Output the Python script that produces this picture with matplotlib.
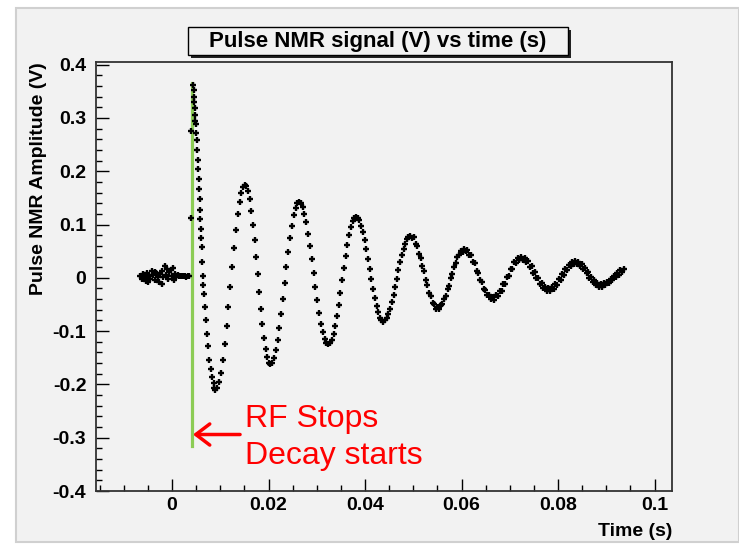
import matplotlib.pyplot as plt
from matplotlib.patches import Rectangle
from matplotlib.ticker import MultipleLocator

# baseline noise before the RF pulse ends
pre_t = [-0.0066, -0.0063, -0.0060, -0.0057, -0.0054, -0.0051, -0.0050, -0.0048,
         -0.0045, -0.0042, -0.0039, -0.0036, -0.0035, -0.0033, -0.0030, -0.0027,
         -0.0024, -0.0021, -0.0020, -0.0018, -0.0015, -0.0012, -0.0010, -0.0009,
         -0.0006, -0.0003, 0.0000, 0.0003, 0.0005, 0.0006, 0.0009, 0.0012,
         0.0015, 0.0018, 0.0021, 0.0024, 0.0027, 0.0030, 0.0033, 0.0036]
pre_v = [0.004, -0.003, 0.008, 0.001, -0.006, 0.010, -0.008, 0.003,
         -0.002, 0.012, 0.006, -0.004, 0.011, 0.009, 0.002, -0.008,
         0.007, 0.013, -0.012, 0.001, 0.022, 0.005, 0.016, -0.003,
         0.011, 0.015, 0.004, 0.018, -0.004, 0.008, 0.002, 0.006,
         0.004, 0.003, 0.004, 0.003, 0.003, 0.002, 0.003, 0.003]

# steep drop right after the pulse
drop_t = [0.0040, 0.0040, 0.0044, 0.0045, 0.0045, 0.0046, 0.0047, 0.0047, 0.0048,
          0.0049, 0.0050, 0.0051, 0.0052, 0.0053, 0.0054, 0.0055, 0.0056, 0.0057,
          0.0058, 0.0059, 0.0060, 0.0061, 0.0062, 0.0063, 0.0064, 0.0065, 0.0066,
          0.0068, 0.0070, 0.0072, 0.0074, 0.0077, 0.0080, 0.0083, 0.0086, 0.0088]
drop_v = [0.275, 0.112, 0.362, 0.352, 0.340, 0.330, 0.318, 0.305, 0.295,
          0.288, 0.272, 0.258, 0.240, 0.222, 0.204, 0.186, 0.166, 0.147,
          0.128, 0.110, 0.092, 0.075, 0.058, 0.030, 0.004, -0.014, -0.030,
          -0.055, -0.080, -0.105, -0.128, -0.154, -0.172, -0.186, -0.198, -0.207]

# free induction decay
decay_t = [
    0.0090, 0.0094, 0.0098, 0.0101, 0.0105, 0.0109, 0.0113, 0.0117, 0.0120, 0.0124, 0.0128, 0.0132, 0.0136, 0.0140, 0.0143, 0.0147,
    0.0151, 0.0154, 0.0158, 0.0161, 0.0164, 0.0168, 0.0171, 0.0174, 0.0178, 0.0181, 0.0184, 0.0187, 0.0191, 0.0194, 0.0197, 0.0201,
    0.0204, 0.0208, 0.0211, 0.0215, 0.0219, 0.0222, 0.0226, 0.0230, 0.0234, 0.0237, 0.0241, 0.0245, 0.0248, 0.0252, 0.0256, 0.0259,
    0.0263, 0.0267, 0.0271, 0.0274, 0.0278, 0.0282, 0.0286, 0.0290, 0.0294, 0.0297, 0.0301, 0.0305, 0.0309, 0.0313, 0.0316, 0.0320,
    0.0324, 0.0328, 0.0331, 0.0335, 0.0338, 0.0342, 0.0345, 0.0349, 0.0352, 0.0356, 0.0360, 0.0363, 0.0367, 0.0370, 0.0374, 0.0377,
    0.0381, 0.0385, 0.0388, 0.0392, 0.0395, 0.0399, 0.0402, 0.0406, 0.0410, 0.0413, 0.0417, 0.0420, 0.0424, 0.0427, 0.0431, 0.0434,
    0.0438, 0.0441, 0.0445, 0.0448, 0.0452, 0.0455, 0.0459, 0.0462, 0.0466, 0.0469, 0.0473, 0.0476, 0.0480, 0.0483, 0.0487, 0.0490,
    0.0494, 0.0498, 0.0501, 0.0505, 0.0508, 0.0512, 0.0515, 0.0519, 0.0522, 0.0526, 0.0529, 0.0533, 0.0536, 0.0540, 0.0543, 0.0547,
    0.0550, 0.0553, 0.0557, 0.0560, 0.0564, 0.0567, 0.0571, 0.0574, 0.0578, 0.0581, 0.0584, 0.0588, 0.0591, 0.0595, 0.0598, 0.0602,
    0.0605, 0.0609, 0.0612, 0.0616, 0.0620, 0.0623, 0.0627, 0.0631, 0.0634, 0.0638, 0.0642, 0.0646, 0.0649, 0.0653, 0.0657, 0.0660,
    0.0664, 0.0668, 0.0671, 0.0675, 0.0679, 0.0683, 0.0686, 0.0690, 0.0694, 0.0698, 0.0702, 0.0705, 0.0709, 0.0713, 0.0717, 0.0720,
    0.0724, 0.0727, 0.0731, 0.0734, 0.0738, 0.0741, 0.0745, 0.0748, 0.0752, 0.0755, 0.0759, 0.0762, 0.0766, 0.0769, 0.0773, 0.0776,
    0.0780, 0.0784, 0.0787, 0.0791, 0.0794, 0.0798, 0.0801, 0.0805, 0.0808, 0.0812, 0.0815, 0.0819, 0.0822, 0.0826, 0.0829, 0.0833,
    0.0836, 0.0839, 0.0842, 0.0846, 0.0849, 0.0852, 0.0855, 0.0859, 0.0862, 0.0865, 0.0868, 0.0872, 0.0875, 0.0878, 0.0881, 0.0885,
    0.0888, 0.0891, 0.0895, 0.0898, 0.0902, 0.0905, 0.0909, 0.0912, 0.0916, 0.0919, 0.0922, 0.0926, 0.0929, 0.0933, 0.0936]
decay_v = [
    -0.210, -0.206, -0.195, -0.178, -0.154, -0.125, -0.091, -0.055, -0.018, 0.020, 0.056, 0.090, 0.119, 0.142, 0.160, 0.171,
    0.175, 0.172, 0.162, 0.147, 0.126, 0.100, 0.071, 0.039, 0.007, -0.026, -0.058, -0.087, -0.113, -0.134, -0.149, -0.159,
    -0.162, -0.159, -0.150, -0.136, -0.117, -0.094, -0.068, -0.039, -0.010, 0.020, 0.049, 0.075, 0.098, 0.117, 0.131, 0.140,
    0.143, 0.140, 0.133, 0.120, 0.104, 0.083, 0.060, 0.035, 0.009, -0.017, -0.042, -0.066, -0.086, -0.102, -0.115, -0.122,
    -0.125, -0.123, -0.116, -0.105, -0.090, -0.072, -0.051, -0.028, -0.005, 0.018, 0.041, 0.062, 0.080, 0.095, 0.106, 0.113,
    0.115, 0.113, 0.108, 0.098, 0.086, 0.071, 0.054, 0.036, 0.017, -0.003, -0.021, -0.038, -0.053, -0.065, -0.075, -0.080,
    -0.082, -0.080, -0.076, -0.068, -0.059, -0.046, -0.033, -0.018, -0.002, 0.014, 0.029, 0.042, 0.055, 0.064, 0.072, 0.076,
    0.078, 0.074, 0.077, 0.064, 0.060, 0.045, 0.038, 0.022, 0.012, -0.005, -0.013, -0.029, -0.035, -0.048, -0.050, -0.058,
    -0.055, -0.059, -0.051, -0.050, -0.039, -0.035, -0.021, -0.015, -0.001, 0.007, 0.021, 0.027, 0.039, 0.042, 0.051, 0.049,
    0.055, 0.050, 0.052, 0.042, 0.043, 0.030, 0.028, 0.013, 0.010, -0.004, -0.008, -0.021, -0.022, -0.033, -0.032, -0.040,
    -0.036, -0.041, -0.033, -0.035, -0.024, -0.024, -0.012, -0.011, 0.002, 0.004, 0.017, 0.017, 0.029, 0.028, 0.037, 0.033,
    0.040, 0.033, 0.038, 0.029, 0.031, 0.021, 0.022, 0.010, 0.011, -0.001, -0.001, -0.012, -0.010, -0.020, -0.017, -0.025,
    -0.019, -0.025, -0.017, -0.021, -0.012, -0.014, -0.003, -0.005, 0.007, 0.005, 0.016, 0.015, 0.025, 0.022, 0.030, 0.026,
    0.032, 0.026, 0.030, 0.022, 0.026, 0.016, 0.019, 0.009, 0.011, 0.000, 0.002, -0.008, -0.005, -0.013, -0.009, -0.017,
    -0.011, -0.017, -0.010, -0.014, -0.007, -0.009, -0.002, -0.004, 0.004, 0.001, 0.010, 0.006, 0.015, 0.011, 0.016]

rf_stop_t = 0.0041
rf_line_v = [-0.315, 0.365]

x_ticks = [0, 0.02, 0.04, 0.06, 0.08, 0.1]
x_tick_labels = ['0', '0.02', '0.04', '0.06', '0.08', '0.1']
y_ticks = [-0.4, -0.3, -0.2, -0.1, 0, 0.1, 0.2, 0.3, 0.4]
y_tick_labels = ['-0.4', '-0.3', '-0.2', '-0.1', '0', '0.1', '0.2', '0.3', '0.4']

plt.rcParams['font.family'] = ['Liberation Sans', 'DejaVu Sans']

W, H = 739, 545
fig = plt.figure(figsize=(W / 100, H / 100), dpi=100, facecolor='white')


def fx(px):
    return px / W


def fy(py):
    return 1 - py / H


bg = '#f2f2f2'
# ROOT canvas
fig.add_artist(Rectangle((fx(16), fy(542)), fx(739) - fx(16), fy(8) - fy(542),
                         transform=fig.transFigure, facecolor=bg,
                         edgecolor='#d0d0d0', lw=1.5, zorder=0))
# title box with shadow
fig.add_artist(Rectangle((fx(191), fy(58)), 380 / W, 28 / H,
                         transform=fig.transFigure, facecolor='#222222',
                         edgecolor='none', zorder=1))
fig.add_artist(Rectangle((fx(188), fy(55)), 380 / W, 28 / H,
                         transform=fig.transFigure, facecolor=bg,
                         edgecolor='black', lw=1, zorder=2))
fig.text(fx(378), fy(41), 'Pulse NMR signal (V) vs time (s)', ha='center',
         va='center', fontsize=16, fontweight='bold', zorder=3)

ax = fig.add_axes([fx(96), fy(491), 576 / W, 429 / H])
ax.set_facecolor(bg)

ax.plot([rf_stop_t, rf_stop_t], rf_line_v, color='#8ccc55', lw=2.3, zorder=2)

ax.plot(pre_t + drop_t + decay_t, pre_v + drop_v + decay_v, linestyle='none',
        marker='+', color='black', ms=5, mew=1.7, zorder=3)

ax.annotate('', xy=(0.00435, -0.294), xytext=(0.0141, -0.294),
            arrowprops=dict(arrowstyle='->,head_length=0.5,head_width=0.38',
                            color='red', lw=2.5, mutation_scale=20,
                            shrinkA=0, shrinkB=0))
ax.text(0.0151, -0.299, 'RF Stops\nDecay starts', color='red', fontsize=23,
        ha='left', va='center', linespacing=1.3)

ax.set_xlim(-0.01575, 0.1036)
ax.set_ylim(-0.4, 0.405)
ax.set_xticks(x_ticks)
ax.set_xticklabels(x_tick_labels, fontweight='bold')
ax.set_yticks(y_ticks)
ax.set_yticklabels(y_tick_labels, fontweight='bold')
ax.xaxis.set_minor_locator(MultipleLocator(0.005))
ax.yaxis.set_minor_locator(MultipleLocator(0.02))
ax.tick_params(which='both', direction='in', top=False, right=False,
               labelsize=14, width=1)
ax.tick_params(which='major', length=9)
ax.tick_params(which='minor', length=4.5)
ax.tick_params(axis='x', pad=4)
ax.tick_params(axis='y', pad=7)
for s in ax.spines.values():
    s.set_linewidth(1.3)
    s.set_color('#333333')

ax.set_xlabel('Time (s)', loc='right', fontsize=14, fontweight='bold')
ax.xaxis.set_label_coords(1.0, -0.075)
ax.set_ylabel('Pulse NMR Amplitude (V)', loc='top', fontsize=14,
              fontweight='bold')
ax.yaxis.set_label_coords(-0.085, 1.0)

plt.savefig('out.png', dpi=100, facecolor='white')
plt.close('all')
